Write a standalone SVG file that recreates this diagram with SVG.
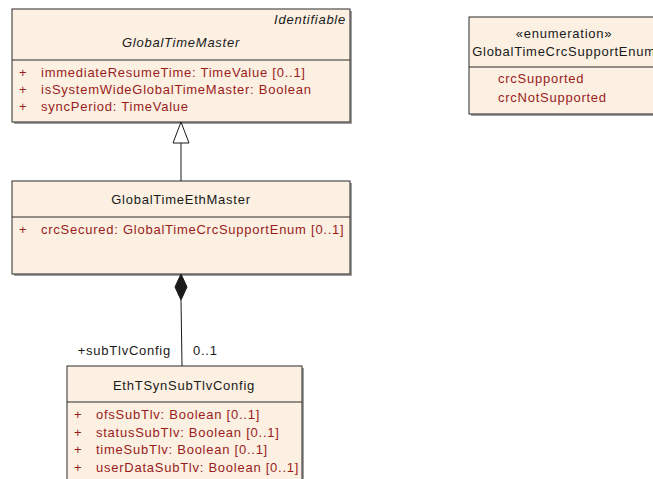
<svg xmlns="http://www.w3.org/2000/svg" width="653" height="479" viewBox="0 0 653 479">
<style>
.box{fill:#FBF0E2;stroke:#2b2b2b;stroke-width:1}
.sh{fill:#a0a0a0}
.div{stroke:#2b2b2b;stroke-width:1}
text{font-family:"Liberation Sans",Arial,sans-serif;font-size:13px;letter-spacing:0.75px;fill:#1a1a1a}
.at{fill:#9A1C1C}
.it{font-style:italic}
.mid{text-anchor:middle}
.end{text-anchor:end}
.ln{stroke:#1a1a1a;stroke-width:1;fill:none}
</style>
<g id="GlobalTimeMaster">
<rect class="sh" x="14" y="11" width="338" height="113"/>
<rect class="box" x="12" y="9" width="338" height="113"/>
<line class="div" x1="12" y1="60" x2="350" y2="60"/>
<text class="it end" x="346" y="24">Identifiable</text>
<text class="it mid" x="181" y="47">GlobalTimeMaster</text>
<text class="at" x="19" y="77">+</text><text class="at" x="41" y="77">immediateResumeTime: TimeValue [0..1]</text>
<text class="at" x="19" y="94">+</text><text class="at" x="41" y="94">isSystemWideGlobalTimeMaster: Boolean</text>
<text class="at" x="19" y="111">+</text><text class="at" x="41" y="111">syncPeriod: TimeValue</text>
</g>
<g id="GlobalTimeCrcSupportEnum">
<rect class="sh" x="471" y="19" width="190" height="97"/>
<rect class="box" x="469" y="17" width="190" height="97"/>
<line class="div" x1="469" y1="67" x2="659" y2="67"/>
<text class="mid" x="564" y="38">«enumeration»</text>
<text class="mid" x="564" y="56">GlobalTimeCrcSupportEnum</text>
<text class="at" x="498" y="83">crcSupported</text>
<text class="at" x="498" y="102">crcNotSupported</text>
</g>
<g id="GlobalTimeEthMaster">
<rect class="sh" x="14" y="183" width="338" height="93"/>
<rect class="box" x="12" y="181" width="338" height="93"/>
<line class="div" x1="12" y1="217" x2="350" y2="217"/>
<text class="mid" x="181" y="204">GlobalTimeEthMaster</text>
<text class="at" x="19" y="234">+</text><text class="at" x="41" y="234">crcSecured: GlobalTimeCrcSupportEnum [0..1]</text>
</g>
<g id="EthTSynSubTlvConfig">
<rect class="sh" x="69" y="368" width="235" height="120"/>
<rect class="box" x="67" y="366" width="235" height="120"/>
<line class="div" x1="67" y1="402" x2="302" y2="402"/>
<text class="mid" x="184" y="390">EthTSynSubTlvConfig</text>
<text class="at" x="74" y="419">+</text><text class="at" x="96" y="419">ofsSubTlv: Boolean [0..1]</text>
<text class="at" x="74" y="437">+</text><text class="at" x="96" y="437">statusSubTlv: Boolean [0..1]</text>
<text class="at" x="74" y="454">+</text><text class="at" x="96" y="454">timeSubTlv: Boolean [0..1]</text>
<text class="at" x="74" y="472">+</text><text class="at" x="96" y="472">userDataSubTlv: Boolean [0..1]</text>
</g>
<g id="connectors">
<line class="ln" x1="181" y1="181" x2="181" y2="143"/>
<polygon points="181,122 173,143 189,143" fill="#ffffff" stroke="#1a1a1a" stroke-width="1"/>
<line class="ln" x1="181" y1="300" x2="182" y2="366"/>
<polygon points="181,274 187,287 181,300 175,287" fill="#1a1a1a" stroke="#1a1a1a" stroke-width="1"/>
<text class="end" x="171" y="355">+subTlvConfig</text>
<text x="193" y="355">0..1</text>
</g>
</svg>
